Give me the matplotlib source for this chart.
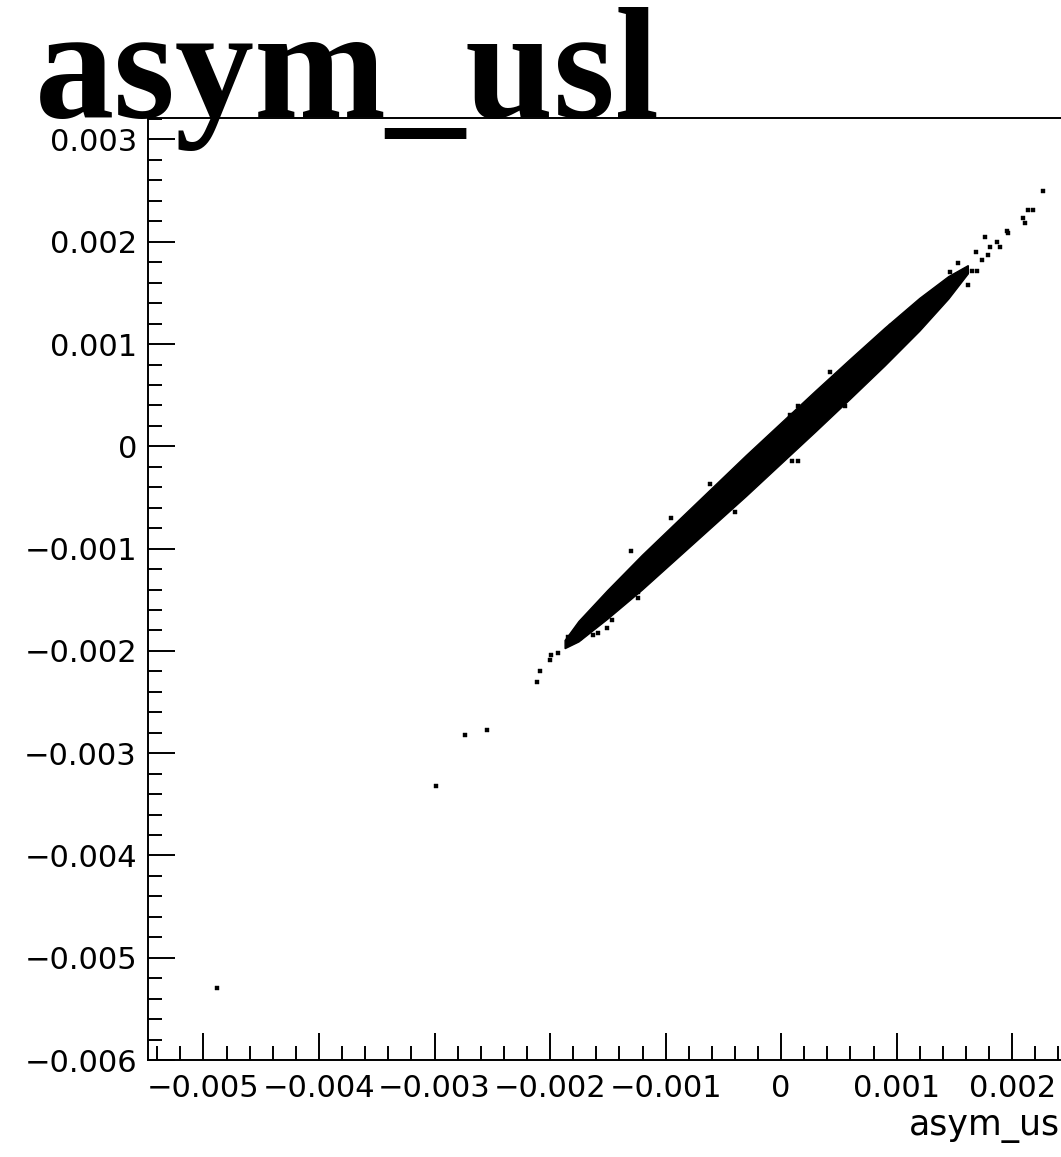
import matplotlib
matplotlib.use("Agg")
import matplotlib.pyplot as plt
from matplotlib.ticker import MultipleLocator, FuncFormatter
#======================================================================#
## data (units of 1e-3)
# dense core of the scatter: upper / lower edge along x
band_x     = [-1.87, -1.75, -1.50, -1.20, -0.90, -0.60, -0.30, 0.00, 0.30, 0.60, 0.90, 1.20, 1.45, 1.62]
band_upper = [-1.898, -1.712, -1.409, -1.064, -0.739, -0.414, -0.089, 0.226, 0.541, 0.851, 1.156, 1.446, 1.659, 1.767]
band_lower = [-1.978, -1.912, -1.689, -1.404, -1.099, -0.794, -0.489, -0.174, 0.141, 0.461, 0.786, 1.126, 1.439, 1.687]

# sparse points outside / on the rim of the core
out_x = [-4.883, -2.987, -2.736, -2.545, -2.113, -2.087, -2.000, -1.991, -1.931, -1.844,
         -1.740, -1.628, -1.584, -1.506, -1.463, -1.238, -1.238, -1.30, -0.95, -0.62,
         0.424, 0.078, 0.147, 0.095, 0.147, -0.40, 0.55, 0.95,
         1.463, 1.619, 1.654, 1.697, 1.532, 1.740, 1.688, 1.792, 1.810, 1.870, 1.896,
         1.766, 1.965, 1.957, 2.113, 2.095, 2.139, 2.182, 2.268]
out_y = [-5.291, -3.317, -2.818, -2.769, -2.300, -2.193, -2.086, -2.037, -2.018, -1.862,
         -1.872, -1.843, -1.824, -1.775, -1.697, -1.483, -1.424, -1.02, -0.70, -0.37,
         0.722, 0.310, 0.399, -0.141, -0.141, -0.64, 0.39, 1.18,
         1.708, 1.580, 1.717, 1.717, 1.796, 1.825, 1.903, 1.874, 1.952, 2.001, 1.952,
         2.049, 2.088, 2.107, 2.185, 2.234, 2.312, 2.312, 2.498]

title_txt = "asym_usl"
xlabel_txt = "asym_usl"
#======================================================================#
## plot parameters
lw_axis = 1.4
fs_tick = 22
fs_label = 25
fs_title = 114
#======================================================================#
def fmt(v, pos):
    if abs(v) < 1e-12:
        return "0"
    return ("%.3f" % v).replace("-", "\u2212")

def main():
    fig = plt.figure(figsize=(10.61, 11.57), dpi=100)
    ax = fig.add_axes([0.1395, 0.0838, 0.869, 0.8142])

    s = 1e-3
    bx = [v * s for v in band_x]
    poly_x = bx + bx[::-1]
    poly_y = [v * s for v in band_upper] + [v * s for v in band_lower][::-1]
    ax.fill(poly_x, poly_y, color='k', lw=1.0, edgecolor='k')
    ax.plot([v * s for v in out_x], [v * s for v in out_y], ls='none', marker='s',
            ms=2.3, mfc='k', mec='k', mew=0.3)

    ax.set_xlim(-0.00548, 0.0025)
    ax.set_ylim(-0.006, 0.00321)

    ax.xaxis.set_major_locator(MultipleLocator(0.001))
    ax.xaxis.set_minor_locator(MultipleLocator(0.0002))
    ax.yaxis.set_major_locator(MultipleLocator(0.001))
    ax.yaxis.set_minor_locator(MultipleLocator(0.0002))
    ax.xaxis.set_major_formatter(FuncFormatter(fmt))
    ax.yaxis.set_major_formatter(FuncFormatter(fmt))

    ax.tick_params(which='both', direction='in', width=lw_axis, top=False, right=False)
    ax.tick_params(which='major', length=19.5)
    ax.tick_params(which='minor', length=10)
    ax.tick_params(axis='x', which='major', labelsize=fs_tick, pad=10)
    ax.tick_params(axis='y', which='major', labelsize=fs_tick, pad=8)
    for sp in ax.spines.values():
        sp.set_linewidth(lw_axis)

    ax.set_xlabel(xlabel_txt, fontsize=fs_label)
    ax.xaxis.set_label_coords(1.0, -0.0796)
    ax.xaxis.label.set_ha('right')
    ax.xaxis.label.set_va('baseline')

    fig.text(0.033, 1 - 117 / 1157, title_txt, family="Liberation Serif", weight='bold',
             fontsize=fs_title, ha='left', va='baseline')

    fig.savefig("out.png", dpi=100)
    plt.close(fig)

if __name__ == '__main__':
    main()
